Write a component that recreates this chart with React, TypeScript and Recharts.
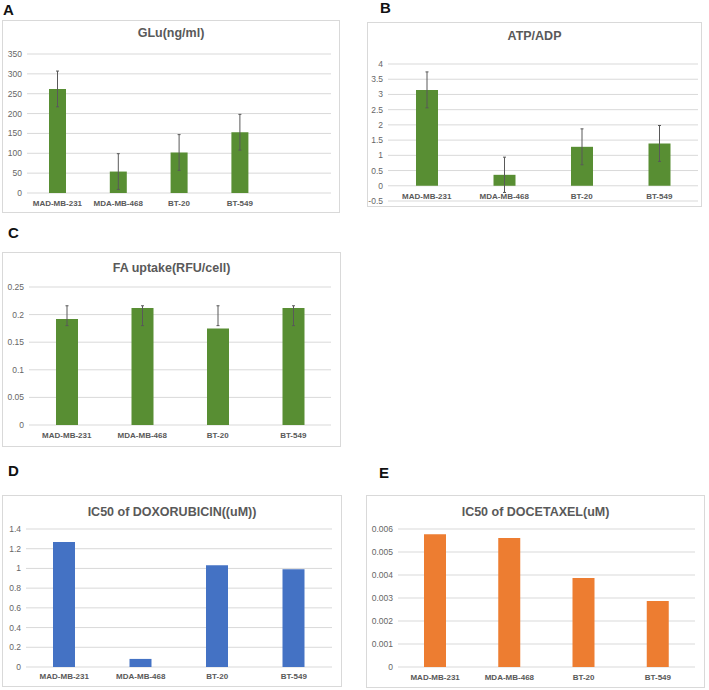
import { Bar, BarChart, CartesianGrid, ErrorBar, XAxis, YAxis } from 'recharts';

const cellLines = ['MAD-MB-231', 'MDA-MB-468', 'BT-20', 'BT-549'];

const gluValues = [262, 54, 102, 153];
const gluErrors = [45, 45, 45, 45];
const gluTicks = [0, 50, 100, 150, 200, 250, 300, 350];

const atpValues = [3.15, 0.36, 1.28, 1.39];
const atpErrors = [0.59, 0.58, 0.59, 0.59];
const atpTicks = [-0.5, 0, 0.5, 1, 1.5, 2, 2.5, 3, 3.5, 4];

const faValues = [0.192, 0.212, 0.175, 0.212];
const faErrorsDown = [0.012, 0.032, -0.005, 0.032];
const faErrorsUp = [0.024, 0.004, 0.041, 0.004];
const faTicks = [0, 0.05, 0.1, 0.15, 0.2, 0.25];

const doxValues = [1.267, 0.082, 1.033, 0.992];
const doxTicks = [0, 0.2, 0.4, 0.6, 0.8, 1, 1.2, 1.4];

const docValues = [0.00577, 0.00561, 0.00387, 0.00287];
const docTicks = [0, 0.001, 0.002, 0.003, 0.004, 0.005, 0.006];

const GREEN = '#588e33';
const BLUE = '#4472c4';
const ORANGE = '#ed7d31';
const FONT = '"Liberation Sans", Arial, sans-serif';

// A has an empty fifth category slot, like the Excel original
const gluData = [...cellLines, ''].map((name, i) => ({ name, value: gluValues[i], err: gluErrors[i] }));
const atpData = cellLines.map((name, i) => ({ name, value: atpValues[i], err: atpErrors[i] }));
const faData = cellLines.map((name, i) => ({ name, value: faValues[i], err: [faErrorsDown[i], faErrorsUp[i]] }));
const doxData = cellLines.map((name, i) => ({ name, value: doxValues[i] }));
const docData = cellLines.map((name, i) => ({ name, value: docValues[i] }));

type PanelProps = {
  letter: string;
  letterX: number;
  letterY: number;
  title: string;
  titleY: number;
  left: number;
  top: number;
  width: number;
  height: number;
  data: any[];
  color: string;
  barSize: number;
  ticks: number[];
  plotTop: number;
  plotRight: number;
  yWidth: number;
  xHeight: number;
  labelGap: number;
  labelDy?: number;
  withError?: boolean;
};

const Panel = (p: PanelProps) => {
  return (
    <>
      <div
        style={{
          position: 'absolute',
          left: p.letterX,
          top: p.letterY - 9,
          fontSize: 15,
          lineHeight: '18px',
          fontWeight: 'bold',
          fontFamily: FONT,
          color: '#111',
        }}
      >
        {p.letter}
      </div>
      <div
        style={{
          position: 'absolute',
          left: p.left,
          top: p.top,
          width: p.width,
          height: p.height,
          background: '#fff',
          boxShadow: 'inset 0 0 0 1px #d9d9d9',
        }}
      >
        <div
          style={{
            position: 'absolute',
            left: 0,
            width: '100%',
            top: p.titleY - 8,
            lineHeight: '16px',
            textAlign: 'center',
            fontSize: 12.5,
            fontWeight: 'bold',
            fontFamily: FONT,
            color: '#595959',
          }}
        >
          {p.title}
        </div>
        <BarChart
          width={p.width}
          height={p.height}
          data={p.data}
          margin={{ top: p.plotTop, right: p.plotRight, bottom: 0, left: 0 }}
        >
          <CartesianGrid vertical={false} stroke='#d9d9d9' />
          <XAxis
            dataKey='name'
            interval={0}
            height={p.xHeight}
            axisLine={false}
            tickLine={false}
            tickSize={0}
            tickMargin={p.labelGap}
            tick={{ fontSize: 8, fontWeight: 'bold', fill: '#595959', fontFamily: FONT, dy: p.labelDy ?? 0 }}
          />
          <YAxis
            width={p.yWidth}
            domain={[p.ticks[0], p.ticks[p.ticks.length - 1]]}
            ticks={p.ticks}
            interval={0}
            axisLine={false}
            tickLine={false}
            tickSize={0}
            tickMargin={5}
            tick={{ fontSize: 8.5, fill: '#666', fontFamily: FONT }}
          />
          <Bar dataKey='value' fill={p.color} barSize={p.barSize} isAnimationActive={false}>
            {p.withError && (
              <ErrorBar
                dataKey='err'
                direction='y'
                width={1.5}
                stroke='#595959'
                strokeWidth={1}
                isAnimationActive={false}
              />
            )}
          </Bar>
        </BarChart>
      </div>
    </>
  );
};

export default function App() {
  return (
    <div style={{ position: 'absolute', left: 0, top: 0, width: 709, height: 690, background: '#fff' }}>
      <Panel
        letter='A' letterX={3} letterY={10}
        title='GLu(ng/ml)' titleY={13}
        left={2} top={20} width={338} height={193}
        data={gluData} color={GREEN} barSize={17} ticks={gluTicks}
        plotTop={34} plotRight={9} yWidth={25} xHeight={20} labelGap={7} withError
      />
      <Panel
        letter='B' letterX={380} letterY={8}
        title='ATP/ADP' titleY={14}
        left={367} top={22} width={335} height={185}
        data={atpData} color={GREEN} barSize={22} ticks={atpTicks}
        plotTop={42} plotRight={4} yWidth={21} xHeight={6} labelGap={0} labelDy={-8} withError
      />
      <Panel
        letter='C' letterX={8} letterY={233}
        title='FA uptake(RFU/cell)' titleY={16}
        left={2} top={252} width={339} height={195}
        data={faData} color={GREEN} barSize={22} ticks={faTicks}
        plotTop={35} plotRight={10} yWidth={27} xHeight={22} labelGap={7} withError
      />
      <Panel
        letter='D' letterX={8} letterY={471}
        title='IC50 of DOXORUBICIN((uM))' titleY={17}
        left={2} top={495} width={340} height={192}
        data={doxData} color={BLUE} barSize={22} ticks={doxTicks}
        plotTop={34} plotRight={10} yWidth={24} xHeight={20} labelGap={6}
      />
      <Panel
        letter='E' letterX={379} letterY={473}
        title='IC50 of DOCETAXEL(uM)' titleY={17}
        left={366} top={495} width={339} height={193}
        data={docData} color={ORANGE} barSize={22} ticks={docTicks}
        plotTop={34} plotRight={10} yWidth={32} xHeight={21} labelGap={7}
      />
    </div>
  );
}
